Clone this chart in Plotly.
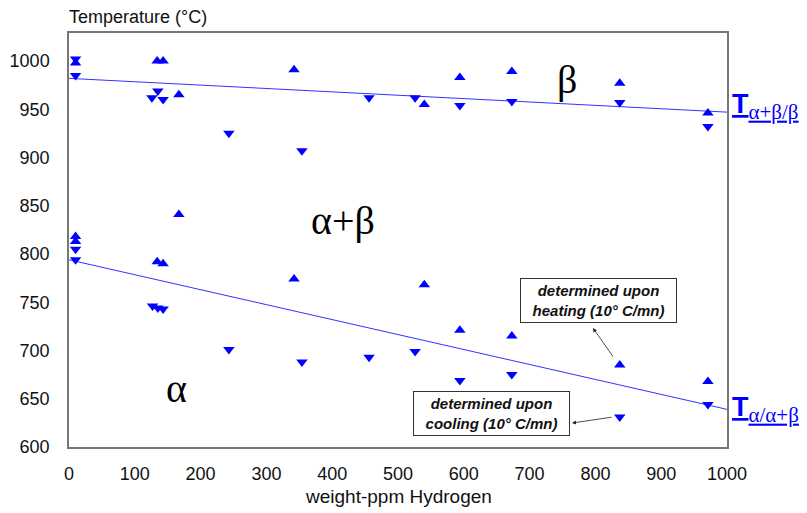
import plotly.graph_objects as go

# ---------------- data ----------------
# beta-transus (alpha+beta / beta)
beta_heat_x = [10, 134, 143, 167, 342, 540, 594, 673, 837, 971]
beta_heat_T = [998, 1000, 1000, 965, 991, 955, 983, 989, 977, 946]
beta_cool_x = [10, 10, 126, 135, 143, 243, 354, 456, 526, 594, 673, 837, 971]
beta_cool_T = [1002, 985, 962, 969, 960, 925, 907, 962, 962, 954, 958, 957, 932]
# alpha / alpha+beta
alpha_heat_x = [10, 10, 134, 143, 167, 342, 540, 594, 673, 837, 971]
alpha_heat_T = [818, 813, 792, 790, 841, 774, 768, 721, 715, 685, 668]
alpha_cool_x = [10, 10, 127, 135, 143, 243, 354, 456, 526, 594, 673, 837, 971]
alpha_cool_T = [805, 794, 746, 744, 743, 701, 688, 693, 699, 669, 675, 631, 644]
# fitted lines
fit_x = [0, 1000]
beta_fit_T = [982, 947]
alpha_fit_T = [794, 639]

x_ticks = [0, 100, 200, 300, 400, 500, 600, 700, 800, 900, 1000]
y_ticks = [600, 650, 700, 750, 800, 850, 900, 950, 1000]

W, H = 807, 513
OFF = 8  # page offset of the figure (body margin)
PL, PR, PT, PB = 69, 727, 33, 447   # plot area in page pixels
XR = [0, 1000]
YR = [600, 1029]
pw, ph = PR - PL, PB - PT

def px_x(p):
    return XR[0] + (p - PL) / pw * (XR[1] - XR[0])

def px_y(p):
    return YR[0] + (PB - p) / ph * (YR[1] - YR[0])

def pap_x(p):
    return (p - PL) / pw

def pap_y(p):
    return (PB - p) / ph

BLUE = "#0000ff"
LINE = "#3333ff"
SANS = "Liberation Sans, Arial, sans-serif"
SERIF = "Liberation Serif, Times New Roman, serif"

fig = go.Figure()
for xs, ys in [(fit_x, beta_fit_T), (fit_x, alpha_fit_T)]:
    fig.add_trace(go.Scatter(x=xs, y=ys, mode="lines",
                             line=dict(color=LINE, width=1), showlegend=False, hoverinfo="skip"))
for xs, ys, sym in [(beta_heat_x, beta_heat_T, "triangle-up"),
                    (alpha_heat_x, alpha_heat_T, "triangle-up"),
                    (beta_cool_x, beta_cool_T, "triangle-down"),
                    (alpha_cool_x, alpha_cool_T, "triangle-down")]:
    fig.add_trace(go.Scatter(x=xs, y=ys, mode="markers",
                             marker=dict(symbol=sym, size=10, color=BLUE, line=dict(width=0)),
                             showlegend=False, cliponaxis=False))

ann = []
# phase labels
for txt, cx, cy in [("β", 567, 80), ("α+β", 343, 220), ("α", 176, 388)]:
    ann.append(dict(x=pap_x(cx), y=pap_y(cy), xref="paper", yref="paper", text=txt,
                    showarrow=False, font=dict(family=SERIF, size=40, color="#000"),
                    xanchor="center", yanchor="middle"))
# T labels
sub_style = "font-family:Liberation Serif, Times New Roman, serif;font-weight:normal;font-size:21px"
for sub, cy in [("α+β/β", 106), ("α/α+β", 409)]:
    ann.append(dict(x=pap_x(730), y=pap_y(cy), xref="paper", yref="paper",
                    text=f"<u><b>T</b><sub><span style='{sub_style}'>{sub}</span></sub></u>",
                    showarrow=False, font=dict(family=SANS, size=27, color=BLUE),
                    xanchor="left", yanchor="middle"))
# boxes
for txt, cx, cy in [("heating", 598.5, 300.5), ("cooling", 491, 413)]:
    ann.append(dict(x=pap_x(cx), y=pap_y(cy), xref="paper", yref="paper", showarrow=False,
                    text=f"<b><i>determined upon<br>{txt} (10° C/mn)</i></b>",
                    font=dict(family=SANS, size=15, color="#111"),
                    bgcolor="white", bordercolor="#333", borderwidth=1,
                    width=153, height=41, align="center",
                    xanchor="center", yanchor="middle"))
# arrows
for hx, hy, tx, ty in [(593, 328, 614, 358), (572, 423, 613, 417)]:
    ann.append(dict(x=px_x(hx), y=px_y(hy), ax=tx - hx, ay=ty - hy, text="",
                    showarrow=True, arrowhead=2, arrowsize=1, arrowwidth=0.8,
                    arrowcolor="#222"))
# axis titles
ann.append(dict(x=pap_x(67), y=pap_y(17), xref="paper", yref="paper",
                text="Temperature (°C)", showarrow=False,
                font=dict(family=SANS, size=18, color="#111"),
                xanchor="left", yanchor="middle"))
ann.append(dict(x=pap_x(398), y=pap_y(496), xref="paper", yref="paper",
                text="weight-ppm Hydrogen", showarrow=False,
                font=dict(family=SANS, size=19, color="#111"),
                xanchor="center", yanchor="middle"))

fig.update_layout(
    width=W, height=H,
    margin=dict(l=PL - OFF, r=W - (PR - OFF), t=PT - OFF, b=H - (PB - OFF), autoexpand=False),
    paper_bgcolor="white", plot_bgcolor="white",
    annotations=ann,
    xaxis=dict(range=XR, tickvals=x_ticks, showgrid=False, zeroline=False,
               showline=True, linecolor="#777", linewidth=1.5, mirror=True,
               ticks="", ticklabelstandoff=10, automargin=False,
               tickfont=dict(family=SANS, size=18, color="#111")),
    yaxis=dict(range=YR, tickvals=y_ticks, showgrid=False, zeroline=False,
               showline=True, linecolor="#777", linewidth=1.5, mirror=True,
               ticks="", ticklabelstandoff=14, automargin=False,
               tickfont=dict(family=SANS, size=18, color="#111")),
)

fig.write_html("out.html")
